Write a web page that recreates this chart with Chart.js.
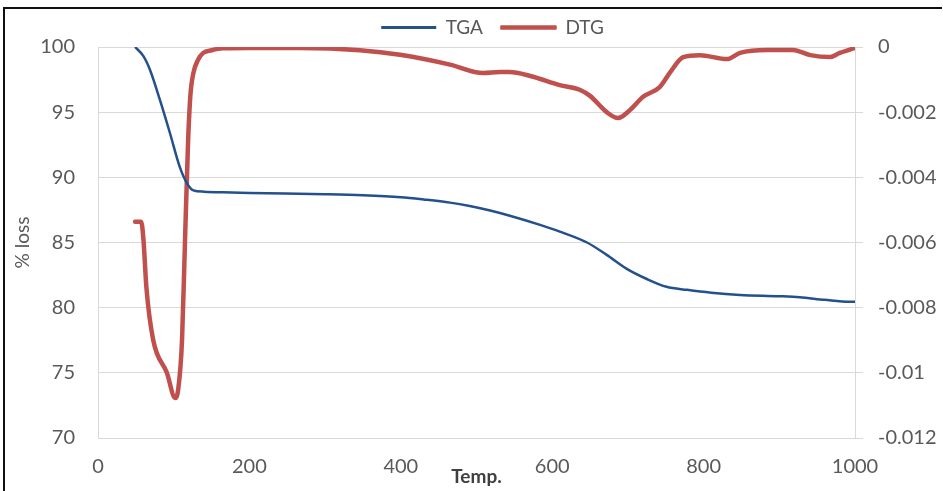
<!DOCTYPE html>
<html>
<head>
<meta charset="utf-8">
<script src="https://cdn.jsdelivr.net/npm/chart.js@4.4.1/dist/chart.umd.min.js"></script>
<style>
  html, body { margin: 0; padding: 0; background: #fff; }
  #wrap { position: relative; width: 943px; height: 491px; overflow: hidden; }
  #chart { position: absolute; left: 0; top: 0; }
  #frame {
    position: absolute; left: 3px; top: 7px; width: 937px; height: 500px;
    border-left: 2px solid #111; border-top: 2px solid #111; pointer-events: none;
  }
</style>
</head>
<body>
<div id="wrap">
  <canvas id="chart" width="943" height="491"></canvas>
  <div id="frame"></div>
</div>
<script>
// TGA curve (% mass vs temperature)
const tgaTemp = [49, 60, 69, 82, 95, 108, 117, 126, 140, 165, 200, 300, 350, 400, 430, 465, 491, 518, 544, 584, 610, 646, 672, 698, 725, 751, 778, 810, 848, 900, 927, 960, 993, 1000];
const tgaValues = [100, 99.3, 98.2, 95.9, 93.4, 90.8, 89.6, 89.0, 88.9, 88.85, 88.8, 88.7, 88.62, 88.47, 88.3, 88.06, 87.8, 87.45, 87.05, 86.35, 85.84, 85.0, 84.05, 83.0, 82.2, 81.6, 81.37, 81.15, 80.98, 80.88, 80.8, 80.6, 80.45, 80.45];

// DTG curve (derivative, right axis)
const dtgTemp = [49, 57, 60, 64, 73, 91, 102, 106, 111, 115, 119, 122, 126, 132, 139, 150, 165, 200, 267, 346, 399, 465, 509, 531, 544, 571, 610, 637, 650, 672, 687, 703, 720, 742, 756, 773, 795, 831, 848, 884, 918, 941, 967, 980, 1000];
const dtgValues = [-0.00536, -0.00536, -0.0059, -0.0074, -0.009, -0.01, -0.01077, -0.0105, -0.009, -0.0059, -0.0029, -0.0015, -0.0008, -0.0004, -0.00018, -0.0001, -0.00004, -0.00003, -0.00003, -0.0001, -0.00024, -0.00054, -0.0008, -0.00077, -0.00077, -0.00089, -0.00117, -0.00132, -0.0015, -0.002, -0.00218, -0.00193, -0.00153, -0.00123, -0.00077, -0.00031, -0.00025, -0.00037, -0.00018, -0.00009, -0.00009, -0.00025, -0.00031, -0.00018, -0.00003];

const seriesNames = ['TGA', 'DTG'];
const seriesColors = ['#24508c', '#c0504d'];
const legendStroke = [0, 1.5];

const toPoints = (xs, ys) => xs.map((x, i) => ({ x: x, y: ys[i] }));

const tickColor = '#595959';
const gridColor = '#d9d9d9';
const fontFamily = 'Lato, "Open Sans", sans-serif';

// nudge the legend a bit right of canvas centre, like the original
const legendShift = {
  id: 'legendShift',
  afterLayout(chart) {
    if (chart.legend) {
      chart.legend.left += 21;
      chart.legend.right += 21;
    }
  }
};

const ctx = document.getElementById('chart').getContext('2d');
new Chart(ctx, {
  type: 'line',
  data: {
    datasets: [
      {
        label: seriesNames[0],
        data: toPoints(tgaTemp, tgaValues),
        borderColor: seriesColors[0],
        backgroundColor: seriesColors[0],
        borderWidth: 2.5,
        pointRadius: 0,
        cubicInterpolationMode: 'monotone',
        yAxisID: 'y'
      },
      {
        label: seriesNames[1],
        data: toPoints(dtgTemp, dtgValues),
        borderColor: seriesColors[1],
        backgroundColor: seriesColors[1],
        borderWidth: 4.5,
        borderCapStyle: 'round',
        borderJoinStyle: 'round',
        pointRadius: 0,
        cubicInterpolationMode: 'monotone',
        yAxisID: 'y1'
      }
    ]
  },
  options: {
    responsive: false,
    animation: false,
    layout: { padding: 0 },
    plugins: {
      legend: {
        position: 'top',
        labels: {
          boxWidth: 55,
          boxHeight: 3,
          padding: 18,
          color: tickColor,
          font: { family: fontFamily, size: 19 },
          generateLabels(chart) {
            const items = Chart.defaults.plugins.legend.labels.generateLabels(chart);
            items.forEach((item, i) => {
              item.lineWidth = legendStroke[i];
              item.strokeStyle = seriesColors[i];
              item.lineCap = 'round';
            });
            return items;
          }
        }
      },
      tooltip: { enabled: false }
    },
    scales: {
      x: {
        type: 'linear',
        min: 0,
        max: 1000,
        ticks: {
          stepSize: 200,
          padding: 17,
          color: tickColor,
          maxRotation: 0,
          font: { family: fontFamily, size: 20 },
          callback: (v) => String(v)
        },
        grid: { display: false, drawTicks: false },
        border: { display: true, color: gridColor, width: 1 },
        title: {
          display: true,
          text: 'Temp.',
          color: '#404040',
          padding: { top: 0, bottom: 3 },
          font: { family: fontFamily, size: 19, weight: 'bold' }
        },
        afterFit(scale) { scale.height = 53; }
      },
      y: {
        position: 'left',
        min: 70,
        max: 100,
        ticks: {
          stepSize: 5,
          padding: 23,
          color: tickColor,
          font: { family: fontFamily, size: 20 }
        },
        grid: { color: gridColor, lineWidth: 1, drawTicks: false },
        border: { display: true, color: gridColor, width: 1 },
        title: {
          display: true,
          text: '% loss',
          color: tickColor,
          padding: { top: 11, bottom: 0 },
          font: { family: fontFamily, size: 19 }
        },
        afterFit(scale) { scale.width = 98; }
      },
      y1: {
        position: 'right',
        min: -0.012,
        max: 0,
        ticks: {
          stepSize: 0.002,
          padding: 15,
          color: tickColor,
          font: { family: fontFamily, size: 20 },
          callback: (v) => {
            const r = parseFloat(Number(v).toFixed(3));
            return r === 0 ? '0' : String(r);
          }
        },
        grid: { drawOnChartArea: false, color: gridColor, tickLength: 8 },
        border: { display: true, color: gridColor, width: 1 },
        afterFit(scale) { scale.width = 88; }
      }
    }
  },
  plugins: [legendShift]
});
</script>
</body>
</html>
